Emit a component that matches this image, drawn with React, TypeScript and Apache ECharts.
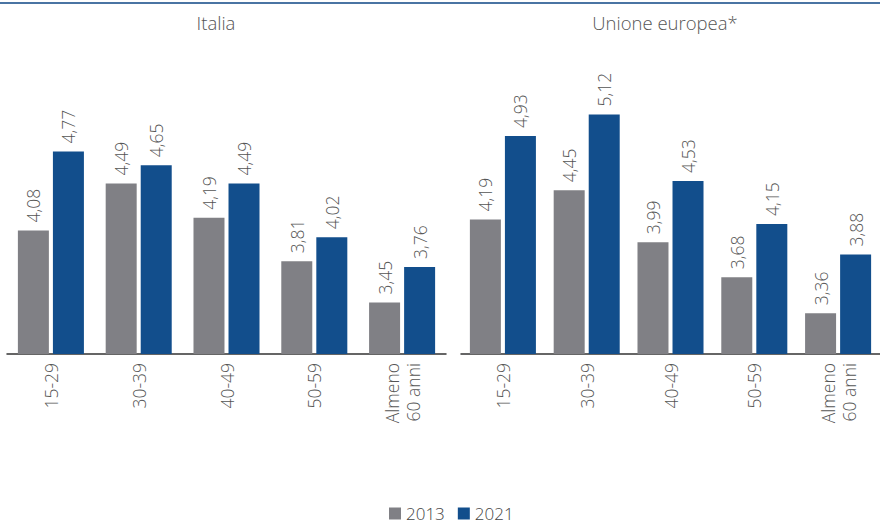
import React, { useEffect, useRef } from "react";
import * as echarts from "echarts";

const categories = ["15-29", "30-39", "40-49", "50-59", "Almeno\n60 anni"];
const italia2013 = [4.08, 4.49, 4.19, 3.81, 3.45];
const italia2021 = [4.77, 4.65, 4.49, 4.02, 3.76];
const ue2013 = [4.19, 4.45, 3.99, 3.68, 3.36];
const ue2021 = [4.93, 5.12, 4.53, 4.15, 3.88];
const panelTitles = ["Italia", "Unione europea*"];
const seriesNames = ["2013", "2021"];

const GRAY = "#808085";
const BLUE = "#124e8c";
const FONT = "Open Sans";

export default function App() {
  const ref = useRef<HTMLDivElement>(null);
  useEffect(() => {
    if (!ref.current) return;
    const chart = echarts.init(ref.current, null, { renderer: "svg" });
    const label = {
      show: true,
      position: "top",
      rotate: 90,
      align: "left",
      verticalAlign: "middle",
      distance: 8,
      color: "#555",
      fontSize: 17.5,
      fontFamily: FONT,
      fontWeight: 300,
      formatter: (p: any) => p.value.toFixed(2).replace(".", ","),
    };
    const xAxisCommon = {
      type: "category",
      data: categories,
      axisTick: { show: false },
      axisLine: { lineStyle: { color: "#333", width: 1.5 } },
      axisLabel: {
        rotate: 90,
        margin: 9,
        color: "#555",
        fontSize: 17.5,
        fontFamily: FONT,
        fontWeight: 300,
        lineHeight: 21,
        interval: 0,
      },
    };
    const yAxisCommon = {
      type: "value",
      min: 3,
      max: 5.5,
      show: false,
      splitLine: { show: false },
    };
    const bar = (name: string, data: number[], color: string, idx: number) => ({
      name,
      type: "bar",
      xAxisIndex: idx,
      yAxisIndex: idx,
      data,
      barWidth: 31,
      barGap: "13%",
      itemStyle: { color },
      label,
    });
    chart.setOption({
      animation: false,
      backgroundColor: "#fff",
      grid: [
        { left: 7, width: 439, top: 68, height: 286 },
        { left: 461, width: 430, top: 71.5, height: 282.5 },
      ],
      xAxis: [
        { ...xAxisCommon, gridIndex: 0 },
        { ...xAxisCommon, gridIndex: 1 },
      ],
      yAxis: [
        { ...yAxisCommon, gridIndex: 0 },
        { ...yAxisCommon, gridIndex: 1 },
      ],
      legend: {
        data: seriesNames,
        left: 384,
        top: 500,
        itemWidth: 12,
        itemHeight: 12,
        itemGap: 13,
        icon: "rect",
        textStyle: { color: "#444", fontSize: 17, lineHeight: 17, fontFamily: FONT, fontWeight: 300 },
      },
      title: [
        {
          text: panelTitles[0],
          left: 211,
          top: 8,
          textAlign: "center",
          textStyle: { color: "#555", fontSize: 18.5, fontFamily: FONT, fontWeight: 300 },
        },
        {
          text: panelTitles[1],
          left: 660,
          top: 8,
          textAlign: "center",
          textStyle: { color: "#555", fontSize: 18.5, fontFamily: FONT, fontWeight: 300 },
        },
      ],
      graphic: [
        {
          type: "line",
          shape: { x1: 0, y1: 3, x2: 880, y2: 3 },
          style: { stroke: "#4a74a3", lineWidth: 2 },
        },
      ],
      series: [
        bar(seriesNames[0], italia2013, GRAY, 0),
        bar(seriesNames[1], italia2021, BLUE, 0),
        bar(seriesNames[0], ue2013, GRAY, 1),
        bar(seriesNames[1], ue2021, BLUE, 1),
      ],
    });
    return () => chart.dispose();
  }, []);
  return (
    <div
      ref={ref}
      style={{ position: "fixed", left: 0, top: 0, width: 880, height: 525 }}
    />
  );
}
